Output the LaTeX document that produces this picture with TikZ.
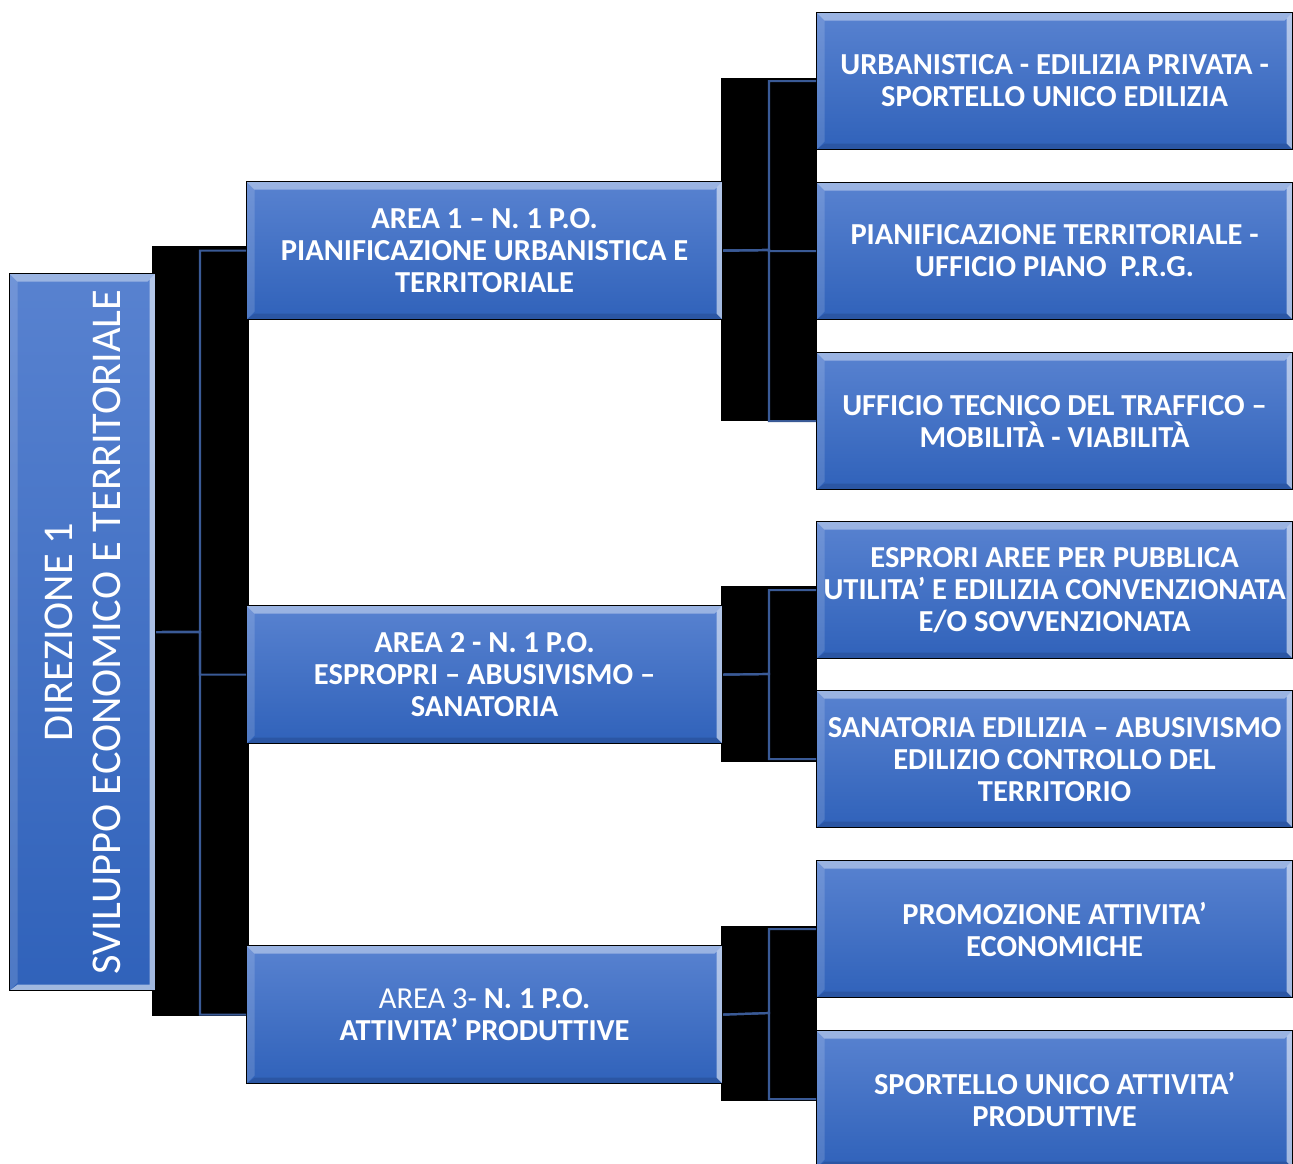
\documentclass[tikz,border=0pt]{standalone}
\usepackage{fontspec}
\setmainfont{Carlito}
\definecolor{boxtop}{RGB}{88,130,208}
\definecolor{boxbot}{RGB}{48,98,186}
\definecolor{linecol}{RGB}{58,90,150}
\tikzset{
  bevel/.style={path picture={
    \fill[white,opacity=0.40] (path picture bounding box.north west) -- (path picture bounding box.north east)
      -- ([xshift=-8pt,yshift=-8pt]path picture bounding box.north east) -- ([xshift=8pt,yshift=-8pt]path picture bounding box.north west) -- cycle;
    \fill[white,opacity=0.15] (path picture bounding box.north west) -- (path picture bounding box.south west)
      -- ([xshift=8pt,yshift=8pt]path picture bounding box.south west) -- ([xshift=8pt,yshift=-8pt]path picture bounding box.north west) -- cycle;
    \fill[white,opacity=0.55] (path picture bounding box.north east) -- (path picture bounding box.south east)
      -- ([xshift=-6pt,yshift=6pt]path picture bounding box.south east) -- ([xshift=-6pt,yshift=-6pt]path picture bounding box.north east) -- cycle;
    \fill[black,opacity=0.12] (path picture bounding box.south west) -- (path picture bounding box.south east)
      -- ([xshift=-6pt,yshift=6pt]path picture bounding box.south east) -- ([xshift=8pt,yshift=6pt]path picture bounding box.south west) -- cycle;
  }},
  rootbevel/.style={path picture={
    \fill[white,opacity=0.40] (path picture bounding box.north west) -- (path picture bounding box.north east)
      -- ([xshift=-8pt,yshift=-8pt]path picture bounding box.north east) -- ([xshift=8pt,yshift=-8pt]path picture bounding box.north west) -- cycle;
    \fill[white,opacity=0.15] (path picture bounding box.north west) -- (path picture bounding box.south west)
      -- ([xshift=8pt,yshift=8pt]path picture bounding box.south west) -- ([xshift=8pt,yshift=-8pt]path picture bounding box.north west) -- cycle;
    \fill[white,opacity=0.55] (path picture bounding box.north east) -- (path picture bounding box.south east)
      -- ([xshift=-6pt,yshift=6pt]path picture bounding box.south east) -- ([xshift=-6pt,yshift=-6pt]path picture bounding box.north east) -- cycle;
    \fill[white,opacity=0.55] (path picture bounding box.south west) -- (path picture bounding box.south east)
      -- ([xshift=-6pt,yshift=6pt]path picture bounding box.south east) -- ([xshift=8pt,yshift=6pt]path picture bounding box.south west) -- cycle;
  }},
  bluebox/.style={draw=black, line width=1.2pt, top color=boxtop, bottom color=boxbot, bevel,
    anchor=north west, inner sep=0pt, text=white, align=center,
    font=\fontsize{30.5}{32}\selectfont\bfseries},
  areabox/.style={bluebox, minimum width=476pt, minimum height=138pt},
  subbox/.style={bluebox, minimum width=476pt, minimum height=137pt},
  shadowrect/.style={fill=black},
  conn/.style={draw=linecol, line width=2.2pt}
}
\begin{document}
\begin{tikzpicture}[x=1pt,y=-1pt]
\path[use as bounding box] (0,0) rectangle (1293,1163);
\clip (0,0) rectangle (1293,1163);
\fill[white] (0,0) rectangle (1293,1163);

% black connector backgrounds
\fill[shadowrect] (152,246) rectangle (249,1016);
\fill[shadowrect] (721,78) rectangle (817,421);
\fill[shadowrect] (721,586) rectangle (817,762);
\fill[shadowrect] (721,926) rectangle (817,1101);

% junction coordinates
\coordinate (j0) at (200,632);
\coordinate (j1) at (769,250);
\coordinate (j2) at (769,674);
\coordinate (j3) at (769,1013);

% root
\node[bluebox, rootbevel, minimum width=146pt, minimum height=717pt] (root) at (9,273) {};
\node[rotate=90, text=white, align=center, inner sep=0pt, font=\fontsize{42.4}{48}\selectfont] (roottext) at (root.center) {DIREZIONE 1\\SVILUPPO ECONOMICO E TERRITORIALE};

% areas
\node[areabox] (a1) at (246,181) {AREA 1 – N. 1 P.O.\\PIANIFICAZIONE URBANISTICA E\\TERRITORIALE};
\node[areabox] (a2) at (246,605) {AREA 2 - N. 1 P.O.\\ESPROPRI – ABUSIVISMO –\\SANATORIA};
\node[areabox] (a3) at (246,945) {{\mdseries AREA 3-} N. 1 P.O.\\ATTIVITA’ PRODUTTIVE};

% sub units
\node[subbox] (s1) at (816,12) {URBANISTICA - EDILIZIA PRIVATA -\\SPORTELLO UNICO EDILIZIA};
\node[subbox] (s2) at (816,182) {PIANIFICAZIONE TERRITORIALE -\\UFFICIO PIANO\ \ P.R.G.};
\node[subbox] (s3) at (816,352) {UFFICIO TECNICO DEL TRAFFICO –\\MOBILITÀ - VIABILITÀ};
\node[subbox] (s4) at (816,521) {ESPRORI AREE PER PUBBLICA\\UTILITA’ E EDILIZIA CONVENZIONATA\\E/O SOVVENZIONATA};
\node[subbox] (s5) at (816,690) {SANATORIA EDILIZIA – ABUSIVISMO\\EDILIZIO CONTROLLO DEL\\TERRITORIO};
\node[subbox] (s6) at (816,860) {PROMOZIONE ATTIVITA’\\ECONOMICHE};
\node[subbox] (s7) at (816,1030) {SPORTELLO UNICO ATTIVITA’\\PRODUTTIVE};

% connectors
\draw[conn] (root.east) -- (j0) |- (a1.west);
\draw[conn] (root.east) -- (j0) |- (a2.west);
\draw[conn] (root.east) -- (j0) |- (a3.west);
\draw[conn] (a1.east) -- (j1) |- (s1.west);
\draw[conn] (a1.east) -- (j1) |- (s2.west);
\draw[conn] (a1.east) -- (j1) |- (s3.west);
\draw[conn] (a2.east) -- (j2) |- (s4.west);
\draw[conn] (a2.east) -- (j2) |- (s5.west);
\draw[conn] (a3.east) -- (j3) |- (s6.west);
\draw[conn] (a3.east) -- (j3) |- (s7.west);
\end{tikzpicture}
\end{document}
